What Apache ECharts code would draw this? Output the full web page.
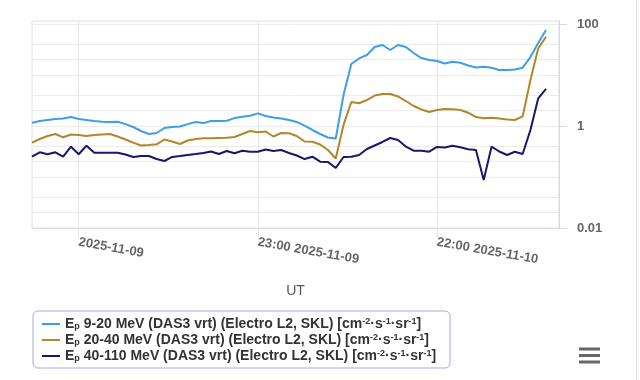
<!DOCTYPE html>
<html>
<head>
<meta charset="utf-8">
<script src="https://cdn.jsdelivr.net/npm/echarts@6/dist/echarts.min.js"></script>
<style>html,body{margin:0;padding:0;background:#fff}#c{width:640px;height:380px}</style>
</head>
<body>
<div id="c"></div>
<script>
const times = [
 '2025-11-08T18:00Z','2025-11-08T19:00Z','2025-11-08T20:00Z','2025-11-08T21:00Z','2025-11-08T22:00Z','2025-11-08T23:00Z',
 '2025-11-09T00:00Z','2025-11-09T01:00Z','2025-11-09T02:00Z','2025-11-09T03:00Z','2025-11-09T04:00Z','2025-11-09T05:00Z',
 '2025-11-09T06:00Z','2025-11-09T07:00Z','2025-11-09T08:00Z','2025-11-09T09:00Z','2025-11-09T10:00Z','2025-11-09T11:00Z',
 '2025-11-09T12:00Z','2025-11-09T13:00Z','2025-11-09T14:00Z','2025-11-09T15:00Z','2025-11-09T16:00Z','2025-11-09T17:00Z',
 '2025-11-09T18:00Z','2025-11-09T19:00Z','2025-11-09T20:00Z','2025-11-09T21:00Z','2025-11-09T22:00Z','2025-11-09T23:00Z',
 '2025-11-10T00:00Z','2025-11-10T01:00Z','2025-11-10T02:00Z','2025-11-10T03:00Z','2025-11-10T04:00Z','2025-11-10T05:00Z',
 '2025-11-10T06:00Z','2025-11-10T07:00Z','2025-11-10T08:00Z','2025-11-10T09:00Z','2025-11-10T10:00Z','2025-11-10T11:00Z',
 '2025-11-10T12:00Z','2025-11-10T13:00Z','2025-11-10T14:00Z','2025-11-10T15:00Z','2025-11-10T16:00Z','2025-11-10T17:00Z',
 '2025-11-10T18:00Z','2025-11-10T19:00Z','2025-11-10T20:00Z','2025-11-10T21:00Z','2025-11-10T22:00Z','2025-11-10T23:00Z',
 '2025-11-11T00:00Z','2025-11-11T01:00Z','2025-11-11T02:00Z','2025-11-11T03:00Z','2025-11-11T04:00Z','2025-11-11T05:00Z',
 '2025-11-11T06:00Z','2025-11-11T07:00Z','2025-11-11T08:00Z','2025-11-11T09:00Z','2025-11-11T10:00Z','2025-11-11T11:00Z',
 '2025-11-11T12:00Z'
];
const flux9to20 = [1.16,1.25,1.31,1.37,1.40,1.50,1.37,1.31,1.25,1.21,
 1.20,1.21,1.09,0.956,0.798,0.697,0.730,0.914,0.956,0.978,
 1.09,1.20,1.14,1.25,1.25,1.27,1.43,1.52,1.59,1.77,
 1.57,1.47,1.40,1.31,1.20,1.02,0.835,0.697,0.595,0.569,
 4.05,16.4,21.1,24.7,35.4,38.7,30.9,38.7,35.4,27.0,
 21.5,19.7,18.8,16.8,18.2,17.4,15.4,14.0,14.5,13.9,
 12.5,12.5,12.8,13.9,22.5,42.4,76.3];
const flux20to40 = [0.471,0.556,0.637,0.697,0.600,0.681,0.666,0.637,0.666,0.681,
 0.697,0.623,0.544,0.471,0.415,0.424,0.438,0.544,0.497,0.444,
 0.520,0.556,0.574,0.574,0.582,0.590,0.609,0.697,0.798,0.752,
 0.780,0.623,0.730,0.719,0.637,0.497,0.492,0.434,0.338,0.231,
 1.05,2.96,2.79,3.23,3.96,4.24,4.24,3.79,3.09,2.47,
 2.11,1.88,2.06,2.15,2.12,2.06,1.82,1.50,1.42,1.45,
 1.40,1.34,1.31,1.54,7.98,33.1,56.4];
const flux40to110 = [0.250,0.305,0.279,0.305,0.250,0.393,0.279,0.411,0.300,0.300,
 0.300,0.300,0.276,0.247,0.258,0.258,0.225,0.206,0.247,0.258,
 0.270,0.282,0.296,0.316,0.282,0.324,0.292,0.328,0.313,0.313,
 0.346,0.324,0.338,0.296,0.264,0.225,0.250,0.200,0.197,0.150,
 0.247,0.250,0.270,0.354,0.415,0.486,0.582,0.532,0.396,0.328,
 0.328,0.313,0.388,0.379,0.411,0.382,0.349,0.338,0.0873,0.393,
 0.316,0.270,0.313,0.282,0.835,3.49,5.32];

const energyBands = ['9-20', '20-40', '40-110'];
const seriesColors = ['#3d9fe6', '#b3862c', '#17176b'];
const xTickTimes = ['2025-11-09T00:00Z', '2025-11-09T23:00Z', '2025-11-10T22:00Z'];
const xTickLabels = ['2025-11-09', '23:00 2025-11-09', '22:00 2025-11-10'];
const yTickValues = [0.01, 1, 100];
const yTickLabels = ['0.01', '1', '100'];
const yGridValues = [0.01, 0.02, 0.04, 0.1, 0.2, 0.4, 1, 2, 4, 10, 20, 40, 100];
const xMin = '2025-11-08T18:00Z';
const xMax = '2025-11-11T13:40Z';

const allSeries = [flux9to20, flux20to40, flux40to110];
const names = energyBands.map(b => 'Ep ' + b + ' MeV (DAS3 vrt) (Electro L2, SKL) [cm-2·s-1·sr-1]');
const richNames = {};
energyBands.forEach((b, i) => {
  richNames[names[i]] = 'E{sub|p} ' + b + ' MeV (DAS3 vrt) (Electro L2, SKL) [cm{sup|-2}·s{sup|-1}·sr{sup|-1}]';
});
const ms = t => Date.parse(t);
const xTickMs = xTickTimes.map(ms);
const xLabelMap = {};
xTickMs.forEach((v, i) => { xLabelMap[v] = xTickLabels[i]; });

const FONT = '"Liberation Sans", Arial, sans-serif';
const chart = echarts.init(document.getElementById('c'), null, {renderer: 'canvas'});
const base = {fontFamily: FONT, fontWeight: 'bold', color: '#333'};
chart.setOption({
  animation: false,
  backgroundColor: '#fff',
  grid: {left: 32, right: 81, top: 21, bottom: 152, show: true, borderColor: '#d9dee7', borderWidth: 1},
  legend: {
    orient: 'vertical', left: 33, top: 311,
    padding: [6, 14, 5, 9], itemGap: 2, itemWidth: 18, itemHeight: 2, icon: 'rect',
    borderColor: '#a9a9e3', borderWidth: 1, borderRadius: 5,
    data: names,
    formatter: n => richNames[n],
    textStyle: Object.assign({fontSize: 14, lineHeight: 14, rich: {
      sub: Object.assign({fontSize: 9, verticalAlign: 'bottom', lineHeight: 14}, base),
      sup: Object.assign({fontSize: 9, verticalAlign: 'top', lineHeight: 14}, base)
    }}, base)
  },
  xAxis: {
    type: 'value', min: ms(xMin), max: ms(xMax),
    name: 'UT', nameLocation: 'middle', nameGap: 56,
    nameTextStyle: {fontFamily: FONT, fontSize: 14, color: '#555'},
    axisLine: {show: true, lineStyle: {color: '#d9dee7'}},
    axisTick: {show: true, customValues: xTickMs, length: 10, lineStyle: {color: '#e3e6ea'}},
    axisLabel: {customValues: xTickMs, rotate: -10, margin: 14, fontFamily: FONT, fontSize: 13,
      fontWeight: 'bold', color: '#666', formatter: v => xLabelMap[v] || ''},
    splitLine: {show: true, lineStyle: {color: '#e6e6e6'}}
  },
  yAxis: [{
    type: 'log', min: 0.01, max: 114.5, position: 'right',
    axisLine: {show: true, lineStyle: {color: '#d3d9e3'}},
    axisTick: {show: true, customValues: yTickValues, length: 8, lineStyle: {color: '#d3d9e3'}},
    axisLabel: {customValues: yTickValues, margin: 18, fontFamily: FONT, fontSize: 13, fontWeight: 'bold',
      color: '#666', formatter: v => yTickLabels[yTickValues.indexOf(+v)] || ''},
    splitLine: {show: false}
  }, {
    type: 'log', min: 0.01, max: 114.5, position: 'left',
    axisLine: {show: false},
    axisTick: {show: false, customValues: yGridValues},
    axisLabel: {show: false, customValues: yGridValues},
    splitLine: {show: true, lineStyle: {color: '#ebebeb'}}
  }],
  series: allSeries.map((vals, i) => ({
    name: names[i], type: 'line', yAxisIndex: 0, showSymbol: false,
    lineStyle: {width: 2, color: seriesColors[i]}, itemStyle: {color: seriesColors[i]},
    data: vals.map((v, j) => [ms(times[j]), v])
  })),
  graphic: [
    {type: 'line', shape: {x1: 636.5, y1: 0, x2: 636.5, y2: 380}, style: {stroke: '#e2e2e2', lineWidth: 1}},
    {type: 'rect', shape: {x: 579, y: 347.5, width: 21, height: 3}, style: {fill: '#666'}},
    {type: 'rect', shape: {x: 579, y: 354, width: 21, height: 3}, style: {fill: '#666'}},
    {type: 'rect', shape: {x: 579, y: 360.5, width: 21, height: 3}, style: {fill: '#666'}}
  ]
});
</script>
</body>
</html>
